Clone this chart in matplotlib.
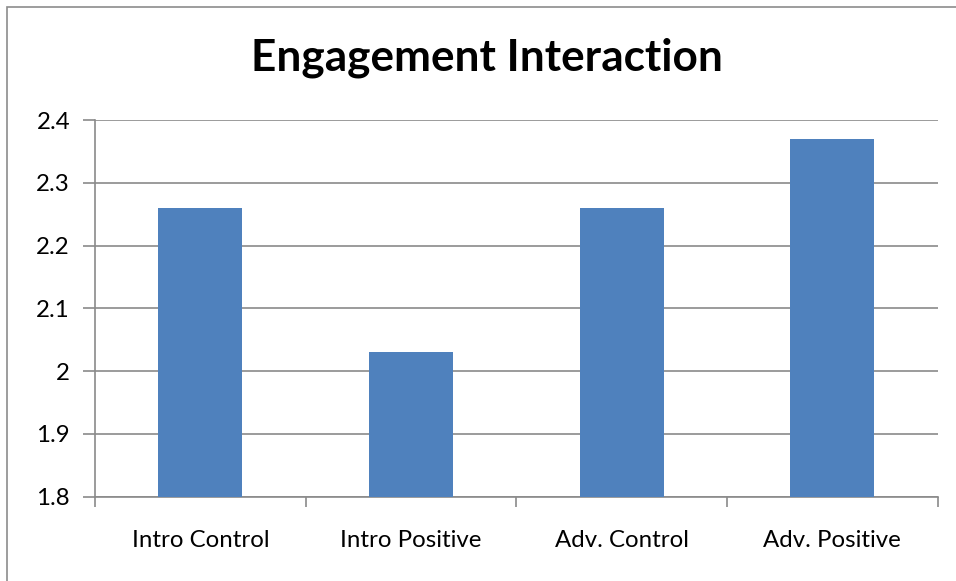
import matplotlib
matplotlib.use("Agg")
import matplotlib.pyplot as plt
from matplotlib.patches import Rectangle

categories = ["Intro Control", "Intro Positive", "Adv. Control", "Adv. Positive"]
scores = [2.26, 2.03, 2.26, 2.37]
y_ticks = [1.8, 1.9, 2.0, 2.1, 2.2, 2.3, 2.4]
y_labels = ["1.8", "1.9", "2", "2.1", "2.2", "2.3", "2.4"]

plt.rcParams['font.family'] = ['Lato', 'DejaVu Sans']

W, H = 956, 581
fig = plt.figure(figsize=(W / 100, H / 100), dpi=100)

# outer chart frame (only top/left visible, rest cropped)
fig.patches.append(Rectangle((7 / W, -0.1), 1.2, (H - 7) / H + 0.1,
                             transform=fig.transFigure, fill=False,
                             edgecolor='#8c8c8c', lw=1.2))

ax = fig.add_axes([95 / W, (H - 496.7) / H, (937.7 - 95) / W, (496.7 - 120) / H])

grid_col = '#8a8a8a'
x = range(len(categories))
ax.bar(x, scores, width=0.4, color='#4f81bd', zorder=3, bottom=0)

ax.set_ylim(1.8, 2.4)
ax.set_xlim(-0.5, len(categories) - 0.5)
ax.set_yticks(y_ticks)
ax.set_yticklabels(y_labels)
ax.yaxis.grid(True, color=grid_col, lw=1.2, zorder=0)

# category labels centred, tick marks on the category boundaries
ax.set_xticks(list(x))
ax.set_xticklabels(categories)
ax.tick_params(axis='x', length=0, pad=24, labelsize=17.3)
ax.set_xticks([i - 0.5 for i in range(len(categories) + 1)], minor=True)
ax.tick_params(axis='x', which='minor', length=7, color=grid_col, width=1.2)
ax.tick_params(axis='y', length=9, color=grid_col, width=1.2, pad=9, labelsize=17.3)

for side in ['top', 'right']:
    ax.spines[side].set_visible(False)
for side in ['left', 'bottom']:
    ax.spines[side].set_color(grid_col)
    ax.spines[side].set_linewidth(1.2)

fig.text((252 + 722) / 2 / W, 1 - 58 / H, "Engagement Interaction",
         ha='center', va='center', fontsize=31.8, fontweight='bold')

fig.savefig("out.png", dpi=100)
